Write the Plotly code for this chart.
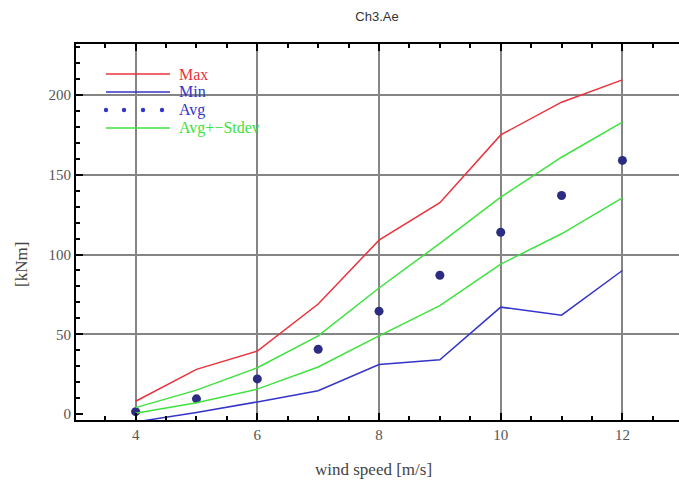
import plotly.graph_objects as go

wind = [4, 5, 6, 7, 8, 9, 10, 11, 12]
max_vals = [8, 28, 39.5, 69, 109, 132.5, 175, 195.5, 209.5]
min_vals = [-5, 1, 7.6, 14.6, 31, 34, 67, 62, 90]
avg_vals = [1.5, 9.5, 22, 40.6, 64.5, 87, 114, 137, 159]
upper_vals = [4, 15, 29, 49, 79, 107, 136, 161, 183]
lower_vals = [0.5, 7, 15.6, 29.5, 49, 68, 94, 113, 135.5]

x_ticks = [4, 6, 8, 10, 12]
y_ticks = [0, 50, 100, 150, 200]
y_grid = [50, 100, 150, 200]
legend_labels = ["Max", "Min", "Avg", "Avg+−Stdev"]

RED = "#e8323c"
BLUE = "#3434c8"
NAVY = "#2c2c80"
GREEN = "#3ee23e"
SERIF = "Liberation Serif, Times New Roman, serif"
SANS = "Liberation Sans, Arial, sans-serif"

W, H = 679, 490
L, R, T, B = 76, 0, 44, 70


def px(xp):
    return (xp - L) / (W - L - R)


def py(yp):
    return (H - B - yp) / (H - T - B)


fig = go.Figure()
fig.add_trace(go.Scatter(x=wind, y=max_vals, mode="lines", line=dict(color=RED, width=1.5), name="Max"))
fig.add_trace(go.Scatter(x=wind, y=min_vals, mode="lines", line=dict(color=BLUE, width=1.5), name="Min"))
fig.add_trace(go.Scatter(x=wind, y=avg_vals, mode="markers", marker=dict(color=NAVY, size=9), name="Avg"))
fig.add_trace(go.Scatter(x=wind, y=upper_vals, mode="lines", line=dict(color=GREEN, width=1.5), name="Avg+Stdev"))
fig.add_trace(go.Scatter(x=wind, y=lower_vals, mode="lines", line=dict(color=GREEN, width=1.5), name="Avg-Stdev"))
# overlay axis carrying only the horizontal grid lines (no grid at 0)
fig.add_trace(go.Scatter(x=[wind[0]], y=[avg_vals[0]], yaxis="y2", mode="markers",
                         marker=dict(opacity=0), showlegend=False, hoverinfo="skip"))

# manual legend (compact rows like the reference)
legend_colors = [RED, BLUE, BLUE, GREEN]
row_y = [74, 92, 110, 128]
shapes = []
annotations = []
for lab, col, yy in zip(legend_labels, legend_colors, row_y):
    if lab == "Avg":
        for xd in [106, 124, 143, 162]:
            shapes.append(dict(type="circle", xref="paper", yref="paper",
                               x0=px(xd - 2.2), x1=px(xd + 2.2), y0=py(yy + 2.2), y1=py(yy - 2.2),
                               fillcolor=BLUE, line=dict(width=0)))
    else:
        shapes.append(dict(type="line", xref="paper", yref="paper",
                           x0=px(106), x1=px(170), y0=py(yy), y1=py(yy),
                           line=dict(color=col, width=1.5)))
    annotations.append(dict(text=lab, xref="paper", yref="paper", x=px(177), y=py(yy),
                            xanchor="left", yanchor="middle", showarrow=False,
                            font=dict(family=SERIF, size=16, color=col)))

annotations.append(dict(text="wind speed [m/s]", xref="paper", yref="paper", x=px(373), y=py(470),
                        xanchor="center", yanchor="middle", showarrow=False,
                        font=dict(family=SERIF, size=17, color="#444444")))
annotations.append(dict(text="[kNm]", xref="paper", yref="paper", x=px(21), y=py(265),
                        xanchor="center", yanchor="middle", showarrow=False, textangle=-90,
                        font=dict(family=SERIF, size=17, color="#444444")))

fig.update_layout(
    width=W, height=H,
    margin=dict(l=L, r=R, t=T, b=B),
    paper_bgcolor="white", plot_bgcolor="white",
    font=dict(family=SERIF, size=14, color="#444444"),
    title=dict(text="Ch3.Ae", x=377 / W, xanchor="center", y=1 - 16 / H, yanchor="middle",
               font=dict(family=SANS, size=13, color="#333333")),
    showlegend=False,
    shapes=shapes,
    annotations=annotations,
    xaxis=dict(range=[3.02, 12.93], tickvals=x_ticks, ticks="inside", ticklen=7, tickwidth=1.5,
               tickcolor="black", showline=True, linecolor="black", linewidth=2, mirror="ticks",
               showgrid=True, gridcolor="#858585", gridwidth=1.5, zeroline=False, automargin=False,
               minor=dict(dtick=0.5, tick0=0, ticks="inside", ticklen=4, tickcolor="black", showgrid=False),
               tickfont=dict(family=SERIF, size=15, color="#555555")),
    yaxis=dict(range=[-3.75, 232], tickvals=y_ticks, ticks="inside", ticklen=7, tickwidth=1.5,
               tickcolor="black", showline=True, linecolor="black", linewidth=2, mirror=False,
               showgrid=False, zeroline=False, automargin=False,
               minor=dict(dtick=10, tick0=0, ticks="inside", ticklen=4, tickcolor="black", showgrid=False),
               tickfont=dict(family=SERIF, size=15, color="#555555")),
    yaxis2=dict(range=[-3.75, 232], overlaying="y", tickvals=y_grid, showticklabels=False, ticks="",
                showgrid=True, gridcolor="#858585", gridwidth=1.5, zeroline=False, showline=False,
                automargin=False),
)
fig.write_html("out.html", config={"displayModeBar": False},
               post_script="document.body.style.margin='0px';document.body.style.overflow='hidden';")
